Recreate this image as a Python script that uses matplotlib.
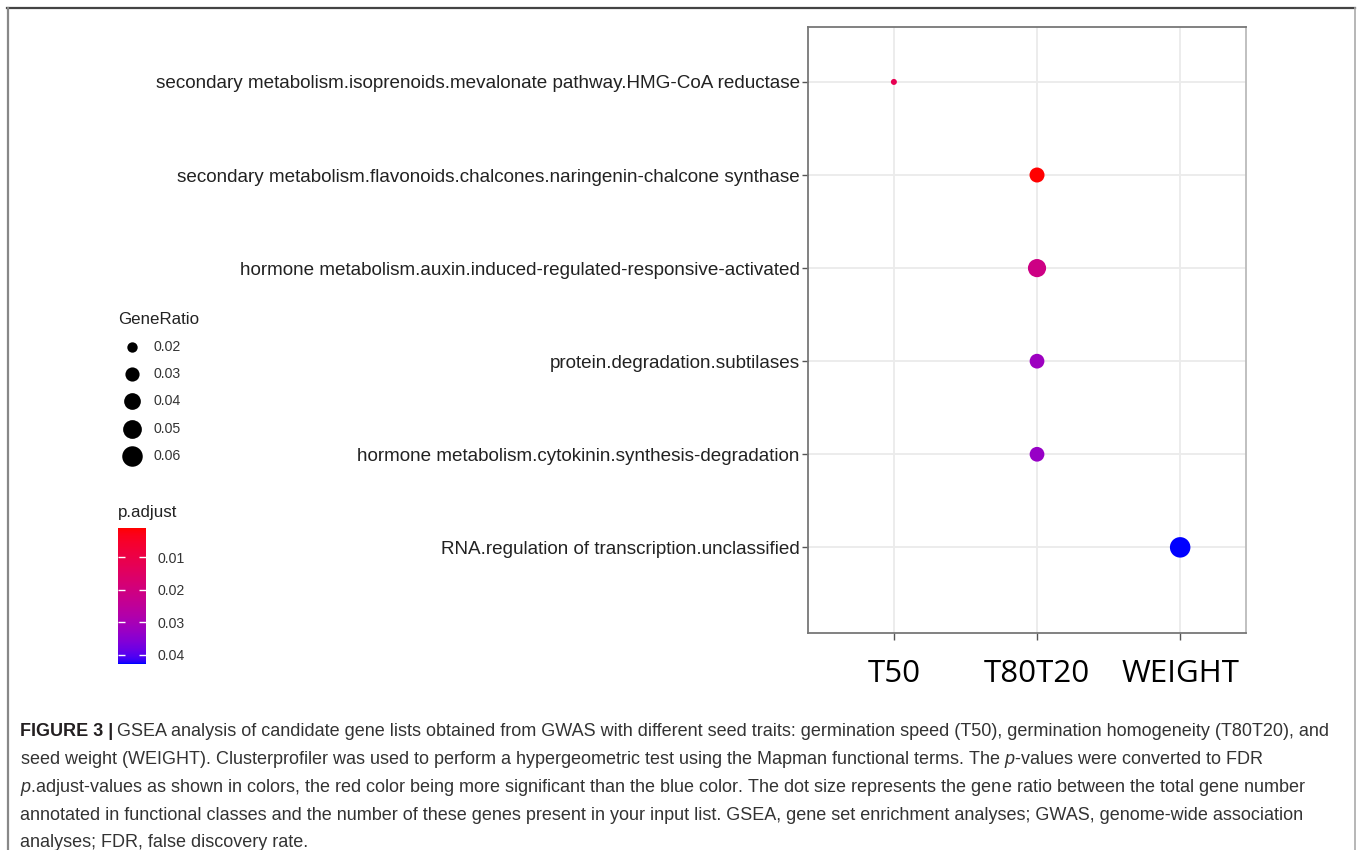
import numpy as np
import matplotlib
matplotlib.use("Agg")
import matplotlib.pyplot as plt
from matplotlib.colors import ListedColormap, Normalize
from matplotlib.cm import ScalarMappable
from matplotlib.lines import Line2D

plt.rcParams['font.family'] = ['Liberation Sans', 'DejaVu Sans']
plt.rcParams['mathtext.fontset'] = 'custom'
plt.rcParams['mathtext.rm'] = 'Liberation Sans'
plt.rcParams['mathtext.it'] = 'Liberation Sans:italic'

# data (top to bottom)
terms = [
    "secondary metabolism.isoprenoids.mevalonate pathway.HMG-CoA reductase",
    "secondary metabolism.flavonoids.chalcones.naringenin-chalcone synthase",
    "hormone metabolism.auxin.induced-regulated-responsive-activated",
    "protein.degradation.subtilases",
    "hormone metabolism.cytokinin.synthesis-degradation",
    "RNA.regulation of transcription.unclassified",
]
trait = ["T50", "T80T20", "T80T20", "T80T20", "T80T20", "WEIGHT"]
gene_ratio = [0.016, 0.033, 0.047, 0.032, 0.032, 0.060]
p_adjust = [0.012, 0.0011, 0.021, 0.032, 0.033, 0.0428]
trait_order = ["T50", "T80T20", "WEIGHT"]
size_breaks = [0.02, 0.03, 0.04, 0.05, 0.06]
color_breaks = [0.01, 0.02, 0.03, 0.04]

caption = [
    "GSEA analysis of candidate gene lists obtained from GWAS with different seed traits: germination speed (T50), germination homogeneity (T80T20), and",
    "seed weight (WEIGHT). Clusterprofiler was used to perform a hypergeometric test using the Mapman functional terms. The $\\mathit{p}$-values were converted to FDR",
    "$\\mathit{p}$.adjust-values as shown in colors, the red color being more significant than the blue color. The dot size represents the gene ratio between the total gene number",
    "annotated in functional classes and the number of these genes present in your input list. GSEA, gene set enrichment analyses; GWAS, genome-wide association",
    "analyses; FDR, false discovery rate.",
]


# red -> blue gradient interpolated in Lab, like ggplot
WHITE = np.array([0.95047, 1.0, 1.08883])
M = np.array([[0.4124, 0.3576, 0.1805], [0.2126, 0.7152, 0.0722], [0.0193, 0.1192, 0.9505]])


def to_lab(rgb):
    c = np.asarray(rgb, float)
    lin = np.where(c <= 0.04045, c / 12.92, ((c + 0.055) / 1.055) ** 2.4)
    t = M @ lin / WHITE
    d = 6 / 29
    f = np.where(t > d ** 3, np.cbrt(t), t / (3 * d * d) + 4 / 29)
    return np.array([116 * f[1] - 16, 500 * (f[0] - f[1]), 200 * (f[1] - f[2])])


def from_lab(lab):
    L, a, b = lab
    fy = (L + 16) / 116
    f = np.array([fy + a / 500, fy, fy - b / 200])
    d = 6 / 29
    t = np.where(f > d, f ** 3, 3 * d * d * (f - 4 / 29))
    lin = np.linalg.solve(M, t * WHITE)
    c = np.where(lin <= 0.0031308, 12.92 * lin, 1.055 * np.clip(lin, 0, None) ** (1 / 2.4) - 0.055)
    return np.clip(c, 0, 1)


lab_lo, lab_hi = to_lab([1, 0, 0]), to_lab([0, 0, 1])
cmap = ListedColormap([from_lab(lab_lo + (lab_hi - lab_lo) * s) for s in np.linspace(0, 1, 256)])
norm = Normalize(min(p_adjust), max(p_adjust))

gmin, gmax = min(gene_ratio), max(gene_ratio)


def diam_px(g):
    g = np.asarray(g, float)
    return 6.0 + 14.5 * np.sqrt(np.clip((g - gmin) / (gmax - gmin), 0, None))


def area_pt(g):
    return (diam_px(g) * 0.72) ** 2


fig = plt.figure(figsize=(13.58, 8.5), dpi=100)
W, H = 1358, 850

ax = fig.add_axes([808 / W, 1 - 633 / H, (1246 - 808) / W, (633 - 27) / H])
xs = [trait_order.index(t) for t in trait]
ys = list(range(len(terms)))
ax.scatter(xs, ys, s=area_pt(gene_ratio), c=p_adjust, cmap=cmap, norm=norm,
           linewidths=0, zorder=3)
ax.set_xlim(-0.6, 2.46)
ax.set_ylim(len(terms) - 1 + 0.92, -0.59)
ax.set_xticks(range(len(trait_order)))
ax.set_xticklabels(trait_order, family='Open Sans', fontsize=22.5, color='#000000')
ax.set_yticks(ys)
ax.set_yticklabels(terms, fontsize=13.6, color='#222222')
ax.grid(True, color='#EBEBEB', lw=1.3)
ax.set_axisbelow(True)
ax.tick_params(axis='y', length=4, width=1, color='#555555', pad=2)
ax.tick_params(axis='x', length=5, width=1, color='#555555', pad=14)
for side in ax.spines:
    ax.spines[side].set_color('#777777')
    ax.spines[side].set_linewidth(1.3)
ax.spines['right'].set_color('#bbbbbb')

# legend area in pixel coordinates
lax = fig.add_axes([0, 0, 1, 1], zorder=-1)
lax.set_xlim(0, W)
lax.set_ylim(H, 0)
lax.axis('off')

lax.text(118, 320, "GeneRatio", fontsize=12.2, va='center', ha='left', color='#222222')
for i, g in enumerate(size_breaks):
    y = 347 + i * 27.2
    lax.scatter([132], [y], s=area_pt(g), color='black', linewidths=0)
    lax.text(154, y, f"{g:.2f}", fontsize=10.2, va='center', ha='left', color='#333333')

lax.text(118, 513, "p.adjust", fontsize=12.2, va='center', ha='left', color='#222222')
cax = fig.add_axes([118 / W, 1 - 664 / H, 28 / W, 136 / H])
cb = fig.colorbar(ScalarMappable(norm=norm, cmap=cmap), cax=cax, ticks=color_breaks)
cb.outline.set_visible(False)
cax.invert_yaxis()
cax.set_yticklabels([f"{v:.2f}" for v in color_breaks])
cax.tick_params(direction='in', color='white', length=5, width=1, left=True, right=True,
                labelleft=False, labelright=True, labelsize=10.2, labelcolor='#333333', pad=8)

# frame of the figure panel
fig.add_artist(Line2D([7 / W, 1355 / W], [1 - 8 / H, 1 - 8 / H], color='#444444', lw=1.6))
fig.add_artist(Line2D([7.5 / W, 7.5 / W], [0, 1 - 8 / H], color='#888888', lw=1.6))
fig.add_artist(Line2D([1355 / W, 1355 / W], [0, 1 - 8 / H], color='#aaaaaa', lw=1.2))

# caption
cap_fs = 13
cap_y = [731, 759, 787, 815, 842]
bold = lax.text(20, cap_y[0] + 5, "FIGURE 3 |", fontsize=cap_fs, fontweight='bold',
                va='baseline', ha='left', color='#231f20')
fig.canvas.draw()
bx = bold.get_window_extent().x1
lax.text(bx + 4, cap_y[0] + 5, caption[0], fontsize=cap_fs, va='baseline', ha='left', color='#333333')
for yy, line in zip(cap_y[1:], caption[1:]):
    lax.text(20, yy + 5, line, fontsize=cap_fs, va='baseline', ha='left', color='#333333')

fig.savefig("out.png", dpi=100)
